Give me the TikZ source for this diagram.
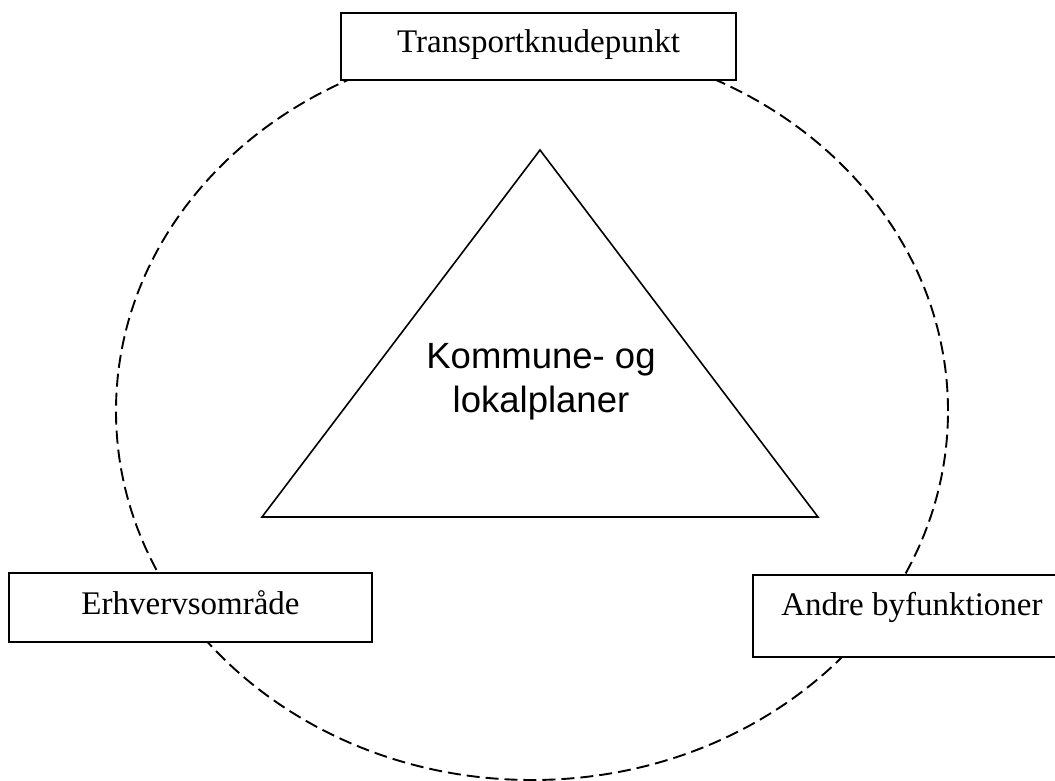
\documentclass[tikz,border=0pt]{standalone}
\usepackage{fontspec}
\setmainfont{Liberation Serif}
\newfontfamily\arialfont{Liberation Sans}
\begin{document}
\begin{tikzpicture}[x=1pt,y=-1pt,
  labelbox/.style={draw=black, fill=white, line width=2pt, inner sep=0pt},
  boxtext/.style={anchor=base, inner sep=0pt, font=\fontsize{33}{38}\selectfont},
  ring/.style={draw=black, line width=1.9pt, dash pattern=on 13pt off 6pt},
  tri/.style={draw=black, line width=1.6pt, line join=miter}
]
\useasboundingbox (0,0) rectangle (1055,781);
% dashed ellipse
\coordinate (c) at (532,411);
\draw[ring] (c) ellipse [x radius=416pt, y radius=369pt];
% triangle
\coordinate (ta) at (540,150);
\coordinate (tl) at (262,517);
\coordinate (tr) at (818,517);
\draw[tri] (ta) -- (tl) -- (tr) -- cycle;
\node[anchor=base, align=center, inner sep=0pt,
      font=\arialfont\fontsize{36.5}{44}\selectfont] (tt) at (541,412) {Kommune- og\\lokalplaner};
% boxes
\node[labelbox, minimum width=395pt, minimum height=67pt] (top) at (538.5,46.5) {};
\node[boxtext] (toptext) at (538.5,53) {Transportknudepunkt};
\node[labelbox, minimum width=363pt, minimum height=69pt] (left) at (190.5,607.5) {};
\node[boxtext] (lefttext) at (190.5,614) {Erhvervsområde};
\node[labelbox, minimum width=312pt, minimum height=82pt] (right) at (909,616) {};
\node[boxtext] (righttext) at (912,615) {Andre byfunktioner};
\end{tikzpicture}
\end{document}
